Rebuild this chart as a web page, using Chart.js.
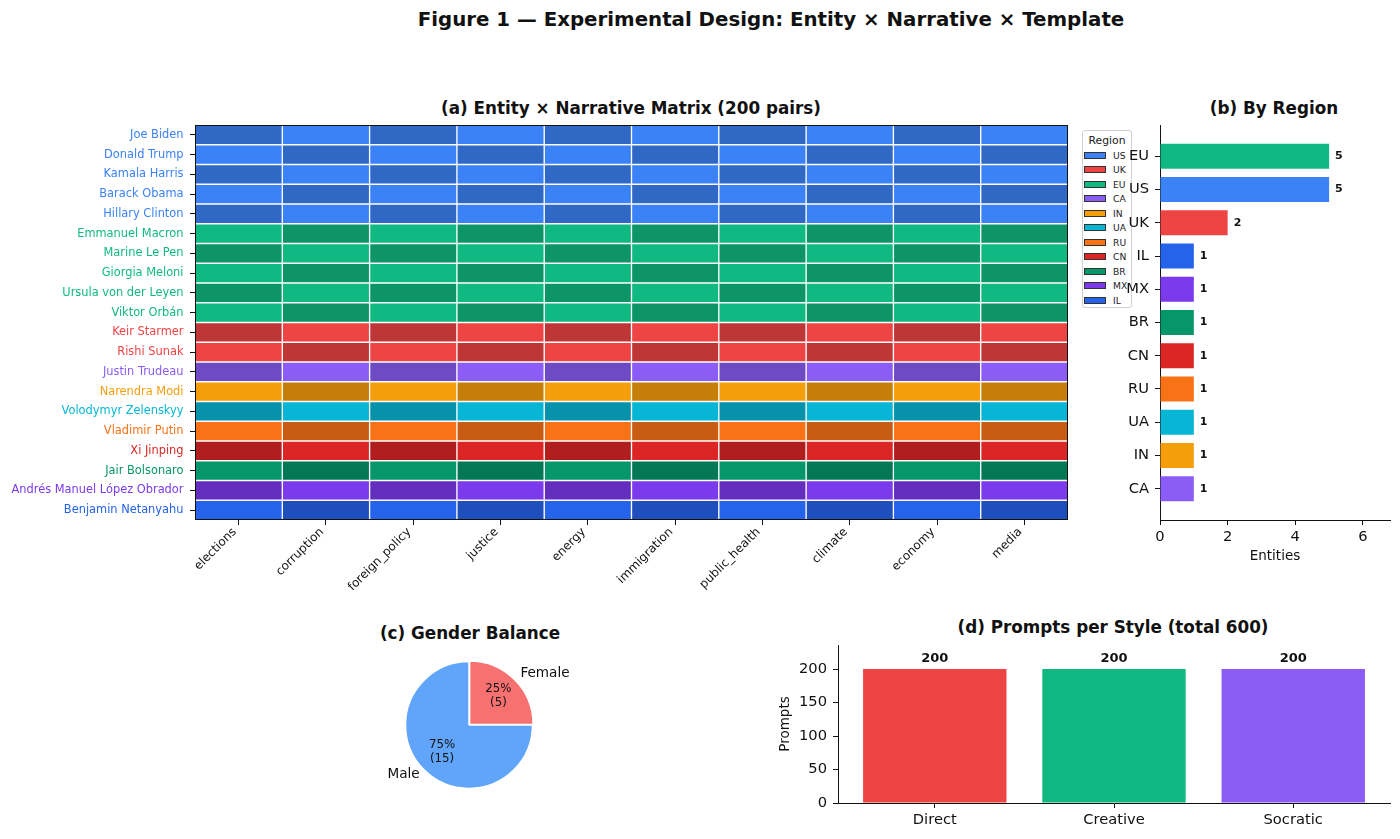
<!DOCTYPE html>
<html>
<head>
<meta charset="utf-8">
<script src="https://cdn.jsdelivr.net/npm/chart.js@4.4.1/dist/chart.umd.min.js"></script>
<style>
  body { margin:0; background:#fff; font-family:'DejaVu Sans', sans-serif; }
  #wrap { position:relative; width:1400px; height:839px; overflow:hidden; }
  canvas { position:absolute; }
  .ttl { position:absolute; transform:translate(-50%,-50%); font-weight:bold; white-space:nowrap; line-height:1; color:#111; }
  #legend { position:absolute; left:1082px; top:130px; width:50px; height:178px; box-sizing:border-box;
            border:1px solid #d0d0d0; border-radius:3px; background:rgba(255,255,255,0.85); }
  #legend .lt { position:absolute; left:0; width:48px; top:3px; text-align:center; font-size:10.8px; color:#222; }
  #legend .sw { position:absolute; left:1px; width:22px; height:7px; box-sizing:border-box; border:1px solid #333; }
  #legend .lb { position:absolute; left:30px; font-size:9.2px; line-height:9px; color:#222; }
</style>
</head>
<body>
<div id="wrap">
  <div class="ttl" style="left:771px;top:20px;font-size:19.8px">Figure 1 — Experimental Design: Entity × Narrative × Template</div>
  <div class="ttl" style="left:631px;top:108px;font-size:16.8px">(a) Entity × Narrative Matrix (200 pairs)</div>
  <div class="ttl" style="left:1274px;top:108px;font-size:16.8px">(b) By Region</div>
  <div class="ttl" style="left:470px;top:633px;font-size:16.8px">(c) Gender Balance</div>
  <div class="ttl" style="left:1113px;top:627px;font-size:16.8px">(d) Prompts per Style (total 600)</div>
  <canvas id="heat" width="1075" height="470" style="left:0;top:120px"></canvas>
  <div id="legend"></div>
  <canvas id="region" width="300" height="450" style="left:1100px;top:120px"></canvas>
  <canvas id="gender" width="240" height="180" style="left:349px;top:635px"></canvas>
  <canvas id="style" width="630" height="199" style="left:770px;top:640px"></canvas>
</div>
<script>
// ---- data ----
const entities = ['Joe Biden','Donald Trump','Kamala Harris','Barack Obama','Hillary Clinton',
  'Emmanuel Macron','Marine Le Pen','Giorgia Meloni','Ursula von der Leyen','Viktor Orbán',
  'Keir Starmer','Rishi Sunak','Justin Trudeau','Narendra Modi','Volodymyr Zelenskyy',
  'Vladimir Putin','Xi Jinping','Jair Bolsonaro','Andrés Manuel López Obrador','Benjamin Netanyahu'];
const entityRegion = ['US','US','US','US','US','EU','EU','EU','EU','EU',
  'UK','UK','CA','IN','UA','RU','CN','BR','MX','IL'];
const narratives = ['elections','corruption','foreign_policy','justice','energy',
  'immigration','public_health','climate','economy','media'];
const regionNames = ['US','UK','EU','CA','IN','UA','RU','CN','BR','MX','IL'];
const regionColors = ['#3b82f6','#ef4444','#10b981','#8b5cf6','#f59e0b','#06b6d4',
  '#f97316','#dc2626','#059669','#7c3aed','#2563eb'];
const regionOrder = ['EU','US','UK','IL','MX','BR','CN','RU','UA','IN','CA'];
const regionCounts = [5,5,2,1,1,1,1,1,1,1,1];
const genderLabels = ['Female','Male'];
const genderCounts = [5,15];
const genderColors = ['#f87171','#60a5fa'];
const styleNames = ['Direct','Creative','Socratic'];
const stylePrompts = [200,200,200];
const styleColors = ['#ef4444','#10b981','#8b5cf6'];

Chart.defaults.font.family = "'DejaVu Sans', sans-serif";
Chart.defaults.color = '#111';
Chart.defaults.animation = false;

const colorOf = r => regionColors[regionNames.indexOf(r)];
function darker(hex, f) {
  const n = parseInt(hex.slice(1), 16);
  const c = [(n >> 16) & 255, (n >> 8) & 255, n & 255].map(v => Math.round(v * f));
  return 'rgb(' + c.join(',') + ')';
}
// keep plot areas where they are in the figure (no extra label margins)
const noPadV = s => { s.paddingTop = 0; s.paddingBottom = 0; };

// frame around the heatmap
const frame = {
  id: 'frame',
  afterDatasetsDraw(chart) {
    const a = chart.chartArea, ctx = chart.ctx;
    ctx.save();
    ctx.strokeStyle = '#111';
    ctx.lineWidth = 1;
    ctx.strokeRect(a.left + 0.5, a.top + 0.5, a.right - a.left - 1, a.bottom - a.top - 1);
    ctx.restore();
  }
};

// value labels on bars
const barValues = {
  id: 'barValues',
  afterDatasetsDraw(chart, args, opts) {
    const ctx = chart.ctx;
    const ds = chart.data.datasets[0];
    chart.getDatasetMeta(0).data.forEach((bar, i) => {
      const v = ds.data[i];
      const val = typeof v === 'object' ? (opts.horizontal ? v.x : v.y) : v;
      ctx.save();
      ctx.font = 'bold ' + opts.size + 'px "DejaVu Sans"';
      ctx.fillStyle = '#111';
      if (opts.horizontal) {
        ctx.textAlign = 'left'; ctx.textBaseline = 'middle';
        ctx.fillText(val, bar.x + 6, bar.y);
      } else {
        ctx.textAlign = 'center'; ctx.textBaseline = 'bottom';
        ctx.fillText(val, bar.x, bar.y - 4);
      }
      ctx.restore();
    });
  }
};

// ---- (a) heatmap ----
const axisGrid = { display: true, drawOnChartArea: false, drawTicks: true, tickLength: 5, color: '#111', offset: false };
new Chart(document.getElementById('heat'), {
  type: 'bar',
  data: {
    labels: entities,
    datasets: narratives.map((n, j) => ({
      label: n,
      data: entities.map(() => 1),
      backgroundColor: ctx => {
        const base = colorOf(entityRegion[ctx.dataIndex]);
        return (ctx.dataIndex + j) % 2 === 0 ? darker(base, 0.8) : base;
      },
      borderColor: '#fff',
      borderWidth: 1,
      borderSkipped: false,
      categoryPercentage: 1,
      barPercentage: 1
    }))
  },
  options: {
    indexAxis: 'y',
    responsive: false,
    layout: { padding: { top: 5, right: 7, left: 0, bottom: 0 } },
    plugins: { legend: { display: false }, tooltip: { enabled: false } },
    scales: {
      x: {
        type: 'linear', stacked: true, min: 0, max: 10,
        grid: axisGrid, border: { display: false },
        afterBuildTicks: s => { s.ticks = narratives.map((n, i) => ({ value: i + 0.5 })); },
        afterFit: s => { s.height = 70; s.paddingLeft = 0; s.paddingRight = 0; },
        ticks: {
          autoSkip: false, minRotation: 45, maxRotation: 45, padding: 0, labelOffset: -4,
          font: { size: 12 }, color: '#111',
          callback: (v, i) => narratives[i]
        }
      },
      y: {
        stacked: true,
        grid: axisGrid, border: { display: false },
        afterFit: s => { s.width = 195; noPadV(s); },
        ticks: {
          autoSkip: false, padding: 6.5, font: { size: 11.4 },
          color: ctx => colorOf(entityRegion[ctx.index])
        }
      }
    }
  },
  plugins: [frame]
});

// legend for regions
const leg = document.getElementById('legend');
leg.innerHTML = '<div class="lt">Region</div>' + regionNames.map((r, i) => {
  const y = 20.5 + i * 14.5;
  return '<div class="sw" style="top:' + y + 'px;background:' + regionColors[i] + '"></div>' +
         '<div class="lb" style="top:' + (y - 1) + 'px">' + r + '</div>';
}).join('');

// ---- (b) by region ----
const sideGrid = { display: true, drawOnChartArea: false, drawTicks: true, tickLength: 5, color: '#111', offset: false };
new Chart(document.getElementById('region'), {
  type: 'bar',
  data: {
    labels: regionOrder,
    datasets: [{
      data: regionCounts.map((v, i) => ({ x: v, y: i })),
      backgroundColor: regionOrder.map(colorOf),
      barPercentage: 0.75, categoryPercentage: 1
    }]
  },
  options: {
    indexAxis: 'y',
    responsive: false,
    layout: { padding: { top: 5, right: 10, left: 0, bottom: 0 } },
    plugins: { legend: { display: false }, tooltip: { enabled: false }, barValues: { horizontal: true, size: 11 } },
    scales: {
      y: {
        type: 'linear', reverse: true, min: -0.94, max: 10.94, offset: false,
        grid: sideGrid, border: { display: true, color: '#111', width: 1 },
        afterBuildTicks: s => { s.ticks = regionOrder.map((r, i) => ({ value: i })); },
        afterFit: s => { s.width = 60; noPadV(s); },
        ticks: { autoSkip: false, padding: 6, font: { size: 14.7 }, callback: (v, i) => regionOrder[i] }
      },
      x: {
        type: 'linear', min: 0, max: 6.8,
        grid: sideGrid, border: { display: true, color: '#111', width: 1 },
        afterFit: s => { s.height = 50; s.paddingLeft = 0; s.paddingRight = 0; },
        ticks: { stepSize: 2, includeBounds: false, padding: 3.5, font: { size: 14.7 } },
        title: { display: true, text: 'Entities', font: { size: 13.5 }, padding: { top: 0, bottom: 5.5 } }
      }
    }
  },
  plugins: [barValues]
});

// ---- (c) gender pie ----
const pieLabels = {
  id: 'pieLabels',
  afterDatasetsDraw(chart) {
    const ctx = chart.ctx;
    const total = genderCounts.reduce((a, b) => a + b, 0);
    chart.getDatasetMeta(0).data.forEach((arc, i) => {
      const p = arc.getProps(['x', 'y', 'startAngle', 'endAngle', 'outerRadius']);
      const mid = (p.startAngle + p.endAngle) / 2;
      const off = arc.options.offset || 0;
      const cx = Math.cos(mid), cy = Math.sin(mid);
      const right = cx >= 0;
      ctx.save();
      ctx.fillStyle = '#111';
      ctx.font = '13.6px "DejaVu Sans"';
      ctx.textBaseline = 'middle';
      ctx.textAlign = right ? 'left' : 'right';
      ctx.fillText(genderLabels[i], p.x + cx * p.outerRadius * 1.1 + (right ? 2 : 0),
                   p.y + cy * p.outerRadius * 1.1 + (right ? -2 : 0));
      ctx.font = '11.8px "DejaVu Sans"';
      ctx.textAlign = 'center';
      const px = p.x + cx * (p.outerRadius * 0.6 + off), py = p.y + cy * (p.outerRadius * 0.6 + off);
      const pct = Math.round(genderCounts[i] / total * 100) + '%';
      ctx.fillText(pct, px, py - 7);
      ctx.fillText('(' + genderCounts[i] + ')', px, py + 7);
      ctx.restore();
    });
  }
};
new Chart(document.getElementById('gender'), {
  type: 'pie',
  data: {
    labels: genderLabels,
    datasets: [{
      data: genderCounts,
      backgroundColor: genderColors,
      borderColor: '#fff',
      borderWidth: 1.5,
      offset: [3.5, 0],
      radius: 63.5
    }]
  },
  options: {
    responsive: false,
    layout: { padding: { left: 53, right: 53, top: 23, bottom: 23 } },
    plugins: { legend: { display: false }, tooltip: { enabled: false } }
  },
  plugins: [pieLabels]
});

// ---- (d) prompts per style ----
new Chart(document.getElementById('style'), {
  type: 'bar',
  data: {
    labels: styleNames,
    datasets: [{
      data: stylePrompts.map((v, i) => ({ x: i, y: v })),
      backgroundColor: styleColors,
      barPercentage: 0.8, categoryPercentage: 1
    }]
  },
  options: {
    responsive: false,
    layout: { padding: { top: 5, right: 10, left: 0, bottom: 0 } },
    plugins: { legend: { display: false }, tooltip: { enabled: false }, barValues: { horizontal: false, size: 13 } },
    scales: {
      x: {
        type: 'linear', min: -0.54, max: 2.54, offset: false,
        grid: sideGrid, border: { display: true, color: '#111', width: 1 },
        afterBuildTicks: s => { s.ticks = styleNames.map((n, i) => ({ value: i })); },
        afterFit: s => { s.height = 36; s.paddingLeft = 0; s.paddingRight = 0; },
        ticks: { autoSkip: false, padding: 3.5, font: { size: 14.7 }, callback: (v, i) => styleNames[i] }
      },
      y: {
        type: 'linear', min: 0, max: 236,
        grid: sideGrid, border: { display: true, color: '#111', width: 1 },
        afterFit: s => { s.width = 68; noPadV(s); },
        ticks: { stepSize: 50, includeBounds: false, padding: 6, font: { size: 14.7 } },
        title: { display: true, text: 'Prompts', font: { size: 13.5 }, padding: { top: 7, bottom: 0 } }
      }
    }
  },
  plugins: [barValues]
});
</script>
</body>
</html>
